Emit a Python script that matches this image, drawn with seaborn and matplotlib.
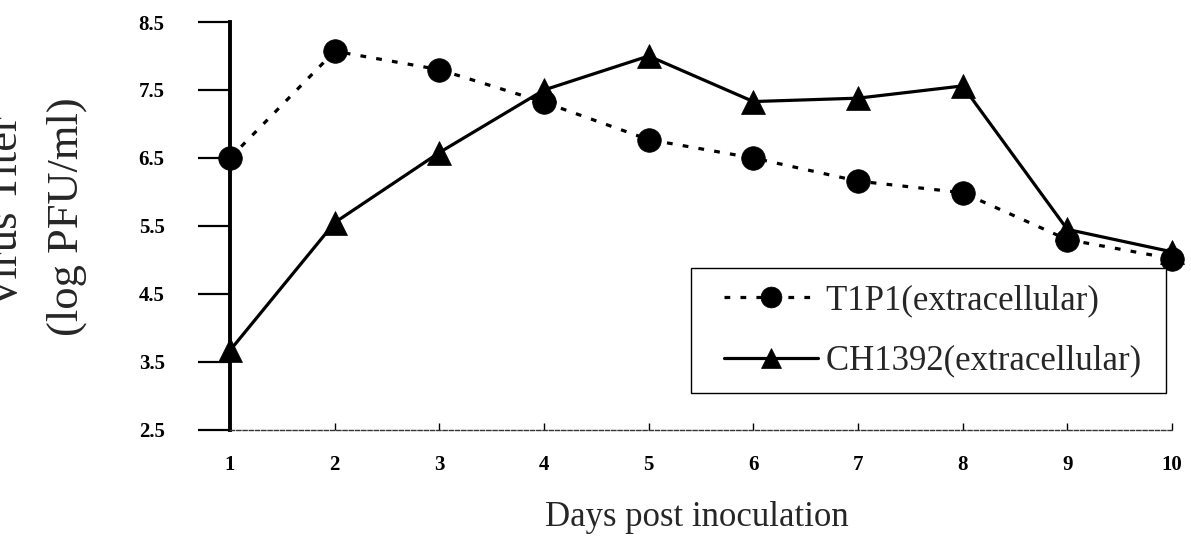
import matplotlib
matplotlib.use("Agg")
import matplotlib.pyplot as plt
import seaborn as sns
import pandas as pd
import numpy as np

days = [1, 2, 3, 4, 5, 6, 7, 8, 9, 10]
t1p1 = [6.5, 8.07, 7.8, 7.32, 6.77, 6.5, 6.16, 5.99, 5.3, 5.02]
ch1392 = [3.67, 5.55, 6.58, 7.5, 8.0, 7.33, 7.38, 7.56, 5.45, 5.12]
series_names = ["T1P1(extracellular)", "CH1392(extracellular)"]
yticks = [2.5, 3.5, 4.5, 5.5, 6.5, 7.5, 8.5]
xticks = days

df = pd.DataFrame({
    "day": days * 2,
    "titer": t1p1 + ch1392,
    "series": [series_names[0]] * len(days) + [series_names[1]] * len(days),
})

sns.set_style("white")
plt.rcParams["font.family"] = ["Liberation Serif", "DejaVu Serif"]

fig = plt.figure(figsize=(11.91, 5.43), dpi=100)
ax = fig.add_axes([230 / 1191, 1 - 430 / 543, (1172 - 230) / 1191, (430 - 22) / 543])

sns.lineplot(
    data=df, x="day", y="titer", hue="series", style="series",
    hue_order=series_names, style_order=series_names,
    palette={series_names[0]: "black", series_names[1]: "black"},
    dashes={series_names[0]: (1.8, 3.2), series_names[1]: ""},
    markers={series_names[0]: "o", series_names[1]: "^"},
    markersize=17, markeredgecolor="black", markeredgewidth=0.5,
    linewidth=2.3, ax=ax, legend=True, clip_on=False,
)

ax.set_xlim(1, 10)
ax.set_ylim(2.5, 8.5)
ax.set_xticks(xticks)
ax.set_yticks(yticks)
ax.set_yticklabels([f"{v:.1f}" for v in yticks])
ax.set_xlabel("")
ax.set_ylabel("")

for s in ["top", "right"]:
    ax.spines[s].set_visible(False)
ax.spines["left"].set_linewidth(2.8)
ax.spines["left"].set_color("black")
ax.spines["bottom"].set_linewidth(1.0)
ax.spines["bottom"].set_color("#333333")
ax.spines["bottom"].set_linestyle((0, (3, 1.5)))

ax.tick_params(axis="y", left=True, direction="out", length=23, width=1.6,
               pad=24, labelsize=15, colors="black")
ax.tick_params(axis="x", bottom=True, direction="in", length=5, width=1.0,
               pad=18, labelsize=15, colors="black")
for lab in ax.get_xticklabels() + ax.get_yticklabels():
    lab.set_fontweight("bold")

fs = 25
handles, labels = ax.get_legend_handles_labels()
labels = [lab + " " for lab in labels]
leg = ax.legend(
    handles, labels, loc="lower right", bbox_to_anchor=(0.9936, 0.09),
    fontsize=fs, frameon=True, fancybox=False, edgecolor="black",
    framealpha=1, handlelength=3.2, handletextpad=0.25, labelspacing=0.8,
    borderpad=0.45, borderaxespad=0,
)
leg.get_frame().set_linewidth(1.0)
trim = 12.5  # points trimmed from left of each legend handle
for h in leg.legend_handles:
    h.set_markersize(15)
    xd = np.asarray(h.get_xdata(), dtype=float)
    new_x = np.linspace(xd[0] + trim, xd[-1], len(xd))
    h.set_xdata(new_x)

fig.text(697 / 1191, 1 - 517 / 543, "Days post inoculation", fontsize=25,
         ha="center", va="center")
fig.text(67 / 1191, 1 - 217 / 543, "(log PFU/ml)", fontsize=32,
         rotation=90, ha="center", va="center")
fig.text(6 / 1191, 1 - 212 / 543, "Virus Titer", fontsize=32,
         rotation=90, ha="center", va="center")

fig.savefig("out.png", dpi=100)
